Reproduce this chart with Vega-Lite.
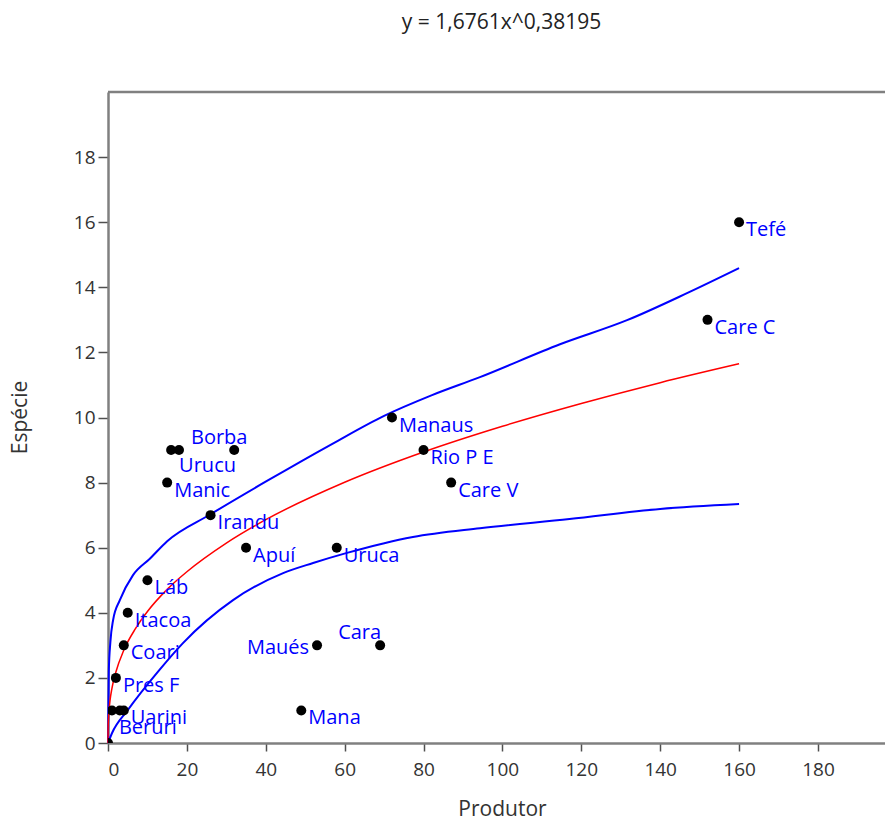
{
  "$schema": "https://vega.github.io/schema/vega-lite/v6.json",
  "width": 777,
  "height": 651,
  "autosize": {"type": "none"},
  "padding": {"left": 108, "top": 92, "right": 0, "bottom": 77},
  "background": "white",
  "title": {"text": "y = 1,6761x^0,38195", "font": "Open Sans", "fontSize": 21, "fontWeight": "normal", "color": "#222222", "anchor": "middle", "offset": 58, "dx": 5},
  "config": {
    "view": {"stroke": null},
    "axis": {"domainColor": "#808080", "domainWidth": 2.5, "tickColor": "#505050", "tickWidth": 1.5, "labelFont": "Open Sans", "labelFontSize": 19, "labelColor": "#333333", "titleFont": "Open Sans", "titleFontSize": 21, "titleFontWeight": "normal", "titleColor": "#333333", "grid": false, "zindex": 1}
  },
  "datasets": {
    "pontos": [
      {"x": 160, "y": 16, "nome": "Tefé"},
      {"x": 152, "y": 13, "nome": "Care C"},
      {"x": 72, "y": 10, "nome": "Manaus"},
      {"x": 80, "y": 9, "nome": "Rio P E"},
      {"x": 87, "y": 8, "nome": "Care V"},
      {"x": 58, "y": 6, "nome": "Uruca"},
      {"x": 35, "y": 6, "nome": "Apuí"},
      {"x": 26, "y": 7, "nome": "Irandu"},
      {"x": 15, "y": 8, "nome": "Manic"},
      {"x": 16, "y": 9, "nome": "Urucu"},
      {"x": 18, "y": 9, "nome": "Borba"},
      {"x": 32, "y": 9},
      {"x": 10, "y": 5, "nome": "Láb"},
      {"x": 5, "y": 4, "nome": "Itacoa"},
      {"x": 4, "y": 3, "nome": "Coari"},
      {"x": 2, "y": 2, "nome": "Pres F"},
      {"x": 1, "y": 1, "nome": "Beruri"},
      {"x": 3, "y": 1},
      {"x": 4, "y": 1, "nome": "Uarini"},
      {"x": 0, "y": 0},
      {"x": 53, "y": 3, "nome": "Maués"},
      {"x": 69, "y": 3, "nome": "Cara"},
      {"x": 49, "y": 1, "nome": "Mana"}
    ],
    "curvas": [
      {"x": 0, "y": 0, "s": "aj"},
      {"x": 0.02, "y": 0.38, "s": "aj"},
      {"x": 0.1, "y": 0.7, "s": "aj"},
      {"x": 0.5, "y": 1.29, "s": "aj"},
      {"x": 1, "y": 1.68, "s": "aj"},
      {"x": 2, "y": 2.18, "s": "aj"},
      {"x": 4, "y": 2.85, "s": "aj"},
      {"x": 7, "y": 3.52, "s": "aj"},
      {"x": 10, "y": 4.04, "s": "aj"},
      {"x": 15, "y": 4.72, "s": "aj"},
      {"x": 20, "y": 5.26, "s": "aj"},
      {"x": 30, "y": 6.14, "s": "aj"},
      {"x": 40, "y": 6.86, "s": "aj"},
      {"x": 60, "y": 8.01, "s": "aj"},
      {"x": 80, "y": 8.94, "s": "aj"},
      {"x": 100, "y": 9.73, "s": "aj"},
      {"x": 120, "y": 10.43, "s": "aj"},
      {"x": 140, "y": 11.07, "s": "aj"},
      {"x": 160, "y": 11.65, "s": "aj"},
      {"x": 0, "y": 0, "s": "sup"},
      {"x": 0.2, "y": 2.2, "s": "sup"},
      {"x": 0.6, "y": 3.1, "s": "sup"},
      {"x": 1.3, "y": 3.78, "s": "sup"},
      {"x": 3, "y": 4.39, "s": "sup"},
      {"x": 6.3, "y": 5.15, "s": "sup"},
      {"x": 10.6, "y": 5.66, "s": "sup"},
      {"x": 15, "y": 6.2, "s": "sup"},
      {"x": 25.9, "y": 7.02, "s": "sup"},
      {"x": 40.3, "y": 8.05, "s": "sup"},
      {"x": 57, "y": 9.2, "s": "sup"},
      {"x": 70, "y": 10.05, "s": "sup"},
      {"x": 82, "y": 10.68, "s": "sup"},
      {"x": 94.3, "y": 11.24, "s": "sup"},
      {"x": 114.6, "y": 12.25, "s": "sup"},
      {"x": 131.6, "y": 12.99, "s": "sup"},
      {"x": 146.8, "y": 13.82, "s": "sup"},
      {"x": 160, "y": 14.59, "s": "sup"},
      {"x": 0, "y": 0, "s": "inf"},
      {"x": 1, "y": 0.3, "s": "inf"},
      {"x": 5, "y": 1.01, "s": "inf"},
      {"x": 13, "y": 2.24, "s": "inf"},
      {"x": 19, "y": 3.07, "s": "inf"},
      {"x": 31.7, "y": 4.39, "s": "inf"},
      {"x": 44.4, "y": 5.22, "s": "inf"},
      {"x": 52, "y": 5.53, "s": "inf"},
      {"x": 60.6, "y": 5.84, "s": "inf"},
      {"x": 77.3, "y": 6.33, "s": "inf"},
      {"x": 94.3, "y": 6.6, "s": "inf"},
      {"x": 117, "y": 6.88, "s": "inf"},
      {"x": 140, "y": 7.19, "s": "inf"},
      {"x": 160, "y": 7.34, "s": "inf"}
    ]
  },
  "layer": [
    {
      "data": {"values": [{"topo": 20}]},
      "mark": {"type": "rule", "color": "#808080", "strokeWidth": 2.5},
      "encoding": {"y": {"field": "topo", "type": "quantitative", "title": "Espécie", "scale": {"domain": [0, 20], "nice": false}}}
    },
    {
      "data": {"name": "curvas"},
      "transform": [{"filter": "datum.s !== 'aj'"}],
      "mark": {"type": "line", "color": "#0000ff", "strokeWidth": 2, "interpolate": "monotone"},
      "encoding": {
        "x": {"field": "x", "type": "quantitative", "title": "Produtor", "scale": {"domain": [0, 197], "nice": false}, "axis": {"values": [0, 20, 40, 60, 80, 100, 120, 140, 160, 180], "tickSize": 8, "labelPadding": 9, "titleX": 394, "titleY": 66, "titleBaseline": "middle"}},
        "y": {"field": "y", "type": "quantitative", "title": "Espécie", "scale": {"domain": [0, 20], "nice": false}, "axis": {"values": [0, 2, 4, 6, 8, 10, 12, 14, 16, 18], "tickSize": 10, "labelPadding": 3, "titleX": -88, "titleY": 325, "titleAngle": -90, "titleAlign": "center", "titleBaseline": "middle"}},
        "detail": {"field": "s"}
      }
    },
    {
      "data": {"name": "curvas"},
      "transform": [{"filter": "datum.s === 'aj'"}],
      "mark": {"type": "line", "color": "#ff0000", "strokeWidth": 1.5, "interpolate": "monotone"},
      "encoding": {
        "x": {"field": "x", "type": "quantitative", "title": "Produtor"},
        "y": {"field": "y", "type": "quantitative", "title": "Espécie"}
      }
    },
    {
      "data": {"name": "pontos"},
      "mark": {"type": "circle", "color": "#000000", "opacity": 1, "size": 100, "clip": true},
      "encoding": {
        "x": {"field": "x", "type": "quantitative", "title": "Produtor"},
        "y": {"field": "y", "type": "quantitative", "title": "Espécie"}
      }
    },
    {
      "data": {"name": "pontos"},
      "transform": [{"filter": "isValid(datum.nome) && indexof(['Maués', 'Cara', 'Borba', 'Urucu', 'Beruri'], datum.nome) < 0"}],
      "mark": {"type": "text", "align": "left", "baseline": "middle", "dx": 7, "dy": 8, "font": "Open Sans", "fontSize": 20, "color": "#0000ff"},
      "encoding": {
        "x": {"field": "x", "type": "quantitative", "title": "Produtor"},
        "y": {"field": "y", "type": "quantitative", "title": "Espécie"},
        "text": {"field": "nome"}
      }
    },
    {
      "data": {"name": "pontos"},
      "transform": [{"filter": {"field": "nome", "equal": "Maués"}}],
      "mark": {"type": "text", "align": "right", "baseline": "middle", "dx": -8, "dy": 3, "font": "Open Sans", "fontSize": 20, "color": "#0000ff"},
      "encoding": {
        "x": {"field": "x", "type": "quantitative", "title": "Produtor"},
        "y": {"field": "y", "type": "quantitative", "title": "Espécie"},
        "text": {"field": "nome"}
      }
    },
    {
      "data": {"name": "pontos"},
      "transform": [{"filter": {"field": "nome", "equal": "Cara"}}],
      "mark": {"type": "text", "align": "right", "baseline": "middle", "dx": 1, "dy": -12, "font": "Open Sans", "fontSize": 20, "color": "#0000ff"},
      "encoding": {
        "x": {"field": "x", "type": "quantitative", "title": "Produtor"},
        "y": {"field": "y", "type": "quantitative", "title": "Espécie"},
        "text": {"field": "nome"}
      }
    },
    {
      "data": {"name": "pontos"},
      "transform": [{"filter": {"field": "nome", "equal": "Borba"}}],
      "mark": {"type": "text", "align": "left", "baseline": "middle", "dx": 12, "dy": -12, "font": "Open Sans", "fontSize": 20, "color": "#0000ff"},
      "encoding": {
        "x": {"field": "x", "type": "quantitative", "title": "Produtor"},
        "y": {"field": "y", "type": "quantitative", "title": "Espécie"},
        "text": {"field": "nome"}
      }
    },
    {
      "data": {"name": "pontos"},
      "transform": [{"filter": {"field": "nome", "equal": "Urucu"}}],
      "mark": {"type": "text", "align": "left", "baseline": "middle", "dx": 8, "dy": 16, "font": "Open Sans", "fontSize": 20, "color": "#0000ff"},
      "encoding": {
        "x": {"field": "x", "type": "quantitative", "title": "Produtor"},
        "y": {"field": "y", "type": "quantitative", "title": "Espécie"},
        "text": {"field": "nome"}
      }
    },
    {
      "data": {"name": "pontos"},
      "transform": [{"filter": {"field": "nome", "equal": "Beruri"}}],
      "mark": {"type": "text", "align": "left", "baseline": "middle", "dx": 7, "dy": 18, "font": "Open Sans", "fontSize": 20, "color": "#0000ff"},
      "encoding": {
        "x": {"field": "x", "type": "quantitative", "title": "Produtor"},
        "y": {"field": "y", "type": "quantitative", "title": "Espécie"},
        "text": {"field": "nome"}
      }
    }
  ]
}
